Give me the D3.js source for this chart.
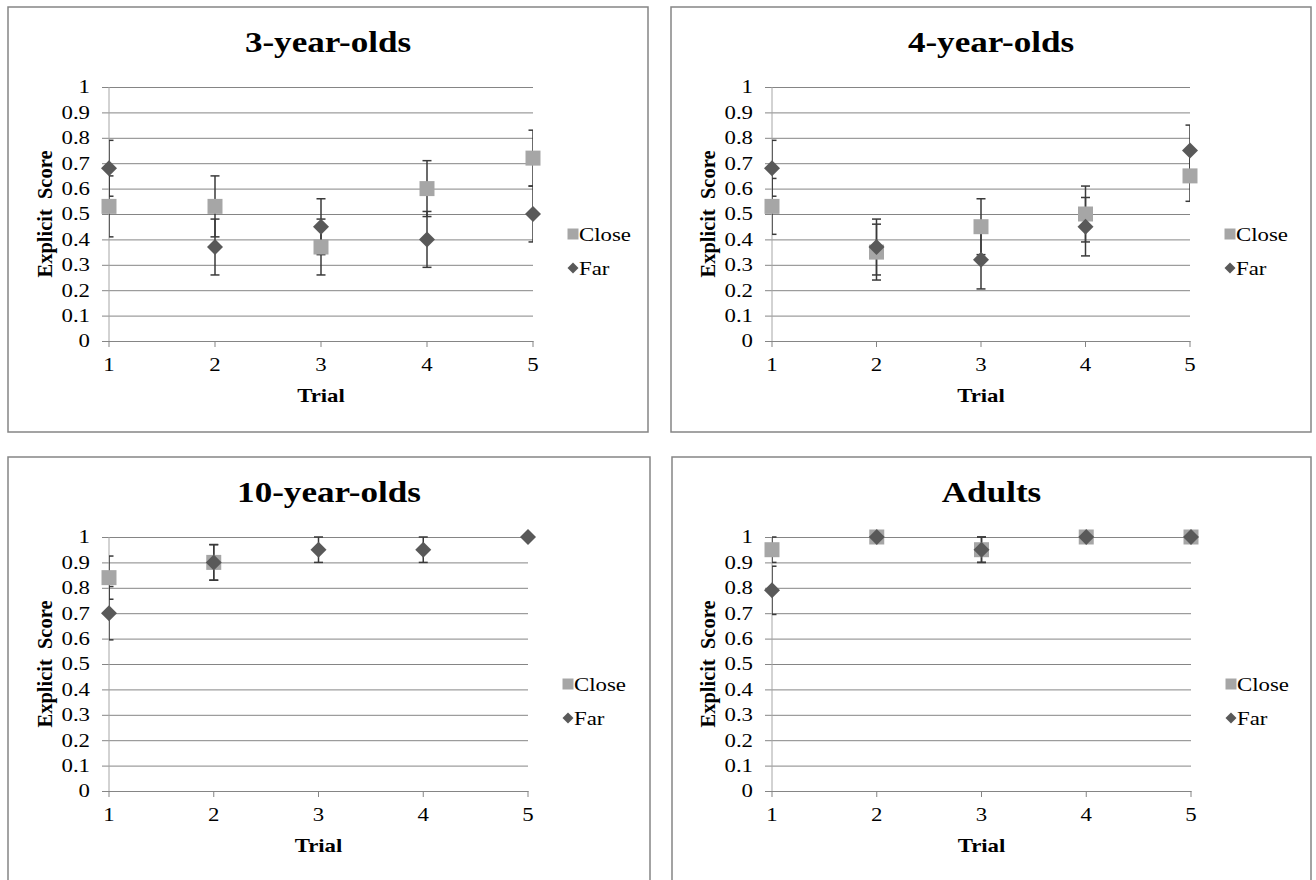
<!DOCTYPE html>
<html>
<head>
<meta charset="utf-8">
<script src="https://cdn.jsdelivr.net/npm/d3@7"></script>
<style>
  body { margin: 0; background: #fff; }
  text { font-family: "Liberation Serif", "Times New Roman", serif; fill: #000; }
</style>
</head>
<body>
<div id="chart"></div>
<script>
// Data
var titles = ["3-year-olds", "4-year-olds", "10-year-olds", "Adults"];
var trials = [1, 2, 3, 4, 5];
var yTicks = [0, 0.1, 0.2, 0.3, 0.4, 0.5, 0.6, 0.7, 0.8, 0.9, 1];
var seriesNames = ["Close", "Far"];

var closeMeans = [
    [0.53, 0.53, 0.37, 0.60, 0.72],
    [0.53, 0.35, 0.45, 0.50, 0.65],
    [0.84, 0.90, null, null, null],
    [0.95, 1.00, 0.95, 1.00, 1.00]
];
var closeErr = [
    [0.12, 0.12, 0.11, 0.11, 0.11],
    [0.11, 0.11, 0.11, 0.11, 0.10],
    [0.085, 0.07, null, null, null],
    [0.05, 0, 0.05, 0, 0]
];
var farMeans = [
    [0.68, 0.37, 0.45, 0.40, 0.50],
    [0.68, 0.37, 0.32, 0.45, 0.75],
    [0.70, 0.90, 0.95, 0.95, 1.00],
    [0.79, 1.00, 0.95, 1.00, 1.00]
];
var farErr = [
    [0.11, 0.11, 0.11, 0.11, 0.11],
    [0.11, 0.11, 0.115, 0.115, 0.10],
    [0.105, 0.07, 0.05, 0.05, 0],
    [0.095, 0, 0.05, 0, 0]
];

// Layout
var width  = 1316;
var height = 880;
var sx = 1.17; // the source picture is a bit wider than tall, so text is stretched

var panels = [
    { x: 8,   y: 7,   w: 640, h: 425, left: 109, right: 533,  top: 87,  bottom: 341 },
    { x: 671, y: 7,   w: 640, h: 425, left: 772, right: 1190, top: 87,  bottom: 341 },
    { x: 8,   y: 457, w: 642, h: 424, left: 109, right: 528,  top: 537, bottom: 791 },
    { x: 672, y: 457, w: 639, h: 424, left: 772, right: 1191, top: 537, bottom: 791 }
];

var closeColor = "#a6a6a6";
var farColor   = "#595959";
var errColor   = "#3a3a3a";
var gridColor  = "#858585";

var svg = d3.select("#chart")
    .append("svg")
    .attr("width", width)
    .attr("height", height);

function stretchedText(g, x, y, str, size, anchor, bold) {
    return g.append("text")
        .attr("transform", "translate(" + x + "," + y + ") scale(" + sx + ",1)")
        .attr("text-anchor", anchor)
        .style("font-size", size + "px")
        .style("font-weight", bold ? "bold" : "normal")
        .text(str);
}

var squareSym  = d3.symbol().type(d3.symbolSquare).size(225);
var diamondSym = d3.symbol().type(d3.symbolSquare).size(128);

panels.forEach(function(p, i) {
    var g = svg.append("g");

    // panel border
    g.append("rect")
        .attr("x", p.x).attr("y", p.y)
        .attr("width", p.w).attr("height", p.h)
        .attr("fill", "#fff")
        .attr("stroke", gridColor)
        .attr("stroke-width", 1.5);

    var x = d3.scaleLinear().domain([1, 5]).range([p.left, p.right]);
    var y = d3.scaleLinear().domain([0, 1]).range([p.bottom, p.top]);

    // gridlines + y ticks
    var yAxis = g.append("g")
        .attr("transform", "translate(" + p.left + ",0)")
        .call(d3.axisLeft(y)
            .tickValues(yTicks)
            .tickSizeInner(-(p.right - p.left))
            .tickSizeOuter(0)
            .tickFormat(d3.format("")));
    yAxis.select(".domain").remove();
    yAxis.selectAll(".tick line")
        .attr("x1", -7)
        .attr("stroke", gridColor);
    yAxis.selectAll(".tick text")
        .attr("x", -19 / sx)
        .attr("dy", "0.3em")
        .attr("transform", "scale(" + sx + ",1)")
        .style("font-size", "19.5px")
        .style("font-family", "Liberation Serif");

    // y axis line
    g.append("line")
        .attr("x1", p.left).attr("x2", p.left)
        .attr("y1", p.top).attr("y2", p.bottom)
        .attr("stroke", "#a6a6a6");

    // x axis
    var xAxis = g.append("g")
        .attr("transform", "translate(0," + p.bottom + ")")
        .call(d3.axisBottom(x)
            .tickValues(trials)
            .tickSizeInner(6)
            .tickSizeOuter(0)
            .tickPadding(0)
            .tickFormat(d3.format("d")));
    xAxis.select(".domain").attr("stroke", gridColor);
    xAxis.selectAll(".tick line").attr("stroke", gridColor);
    xAxis.selectAll(".tick text")
        .attr("y", 30)
        .attr("dy", 0)
        .attr("transform", "scale(" + sx + ",1)")
        .attr("x", 0)
        .style("font-size", "19.5px")
        .style("font-family", "Liberation Serif");
    xAxis.selectAll(".tick").each(function(d) {
        d3.select(this).attr("transform", "translate(" + x(d) + ",0)");
    });

    // titles
    stretchedText(g, p.x + p.w / 2, p.y + 45, titles[i], 30, "middle", true);
    stretchedText(g, (p.left + p.right) / 2, p.bottom + 61, "Trial", 19.5, "middle", true);
    g.append("text")
        .attr("transform", "translate(" + (p.left - 57) + "," + ((p.top + p.bottom) / 2) + ") rotate(-90)")
        .attr("text-anchor", "middle")
        .style("font-size", "20.5px")
        .style("font-weight", "bold")
        .style("word-spacing", "5px")
        .text("Explicit Score");

    // error bars, clipped to the plot area
    var clipId = "clip" + i;
    g.append("clipPath").attr("id", clipId)
        .append("rect")
        .attr("x", p.left).attr("y", p.top - 2)
        .attr("width", p.right - p.left).attr("height", p.bottom - p.top + 4);

    var bars = g.append("g").attr("clip-path", "url(#" + clipId + ")");
    var series = [
        { means: closeMeans[i], errs: closeErr[i] },
        { means: farMeans[i],   errs: farErr[i] }
    ];
    series.forEach(function(s) {
        var pts = trials.map(function(t, k) { return { t: t, m: s.means[k], e: s.errs[k] }; })
            .filter(function(d) { return d.m !== null && d.e > 0; });
        var eb = bars.selectAll(null).data(pts).enter().append("g")
            .attr("stroke", errColor).attr("stroke-width", 1.5);
        eb.append("line")
            .attr("x1", function(d) { return x(d.t); })
            .attr("x2", function(d) { return x(d.t); })
            .attr("y1", function(d) { return y(d.m + d.e); })
            .attr("y2", function(d) { return y(d.m - d.e); });
        [1, -1].forEach(function(sign) {
            eb.append("line")
                .attr("x1", function(d) { return x(d.t) - 4.5; })
                .attr("x2", function(d) { return x(d.t) + 4.5; })
                .attr("y1", function(d) { return y(d.m + sign * d.e); })
                .attr("y2", function(d) { return y(d.m + sign * d.e); });
        });
    });

    // markers
    var closePts = trials.map(function(t, k) { return { t: t, m: closeMeans[i][k] }; })
        .filter(function(d) { return d.m !== null; });
    var farPts = trials.map(function(t, k) { return { t: t, m: farMeans[i][k] }; })
        .filter(function(d) { return d.m !== null; });

    g.selectAll(null).data(closePts).enter().append("path")
        .attr("d", squareSym)
        .attr("transform", function(d) { return "translate(" + x(d.t) + "," + y(d.m) + ")"; })
        .attr("fill", closeColor);

    g.selectAll(null).data(farPts).enter().append("path")
        .attr("d", diamondSym)
        .attr("transform", function(d) { return "translate(" + x(d.t) + "," + y(d.m) + ") rotate(45)"; })
        .attr("fill", farColor);

    // legend
    var lx = p.right + 40;
    var ly = (p.top + p.bottom) / 2;
    g.append("path")
        .attr("d", d3.symbol().type(d3.symbolSquare).size(121))
        .attr("transform", "translate(" + lx + "," + (ly + 20) + ")")
        .attr("fill", closeColor);
    stretchedText(g, lx + 6, ly + 27, seriesNames[0], 19.5, "start", false);
    g.append("path")
        .attr("d", d3.symbol().type(d3.symbolSquare).size(60))
        .attr("transform", "translate(" + lx + "," + (ly + 54) + ") rotate(45)")
        .attr("fill", farColor);
    stretchedText(g, lx + 6, ly + 61, seriesNames[1], 19.5, "start", false);
});
</script>
</body>
</html>
